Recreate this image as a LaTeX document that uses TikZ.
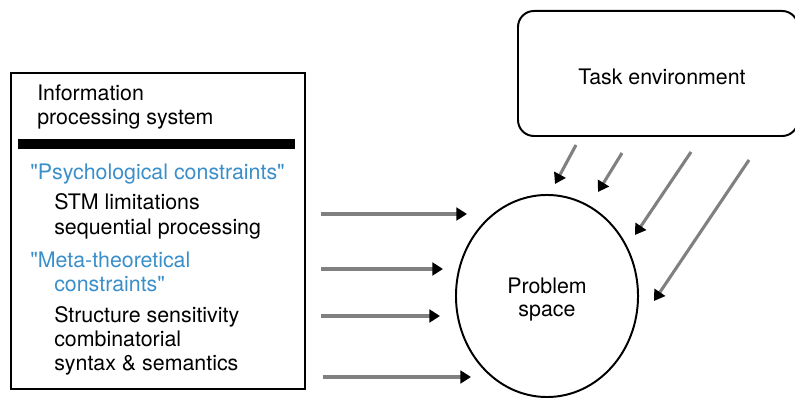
\documentclass[tikz,border=0pt]{standalone}
\usepackage{fontspec}
\setmainfont{TeX Gyre Heros}
\usetikzlibrary{arrows.meta,shapes.geometric}
\definecolor{capblue}{RGB}{58,142,201}
\definecolor{shaft}{RGB}{128,128,128}
\tikzset{
  feed/.style={draw=shaft, line width=2.2pt,
    -{Triangle[color=black, length=7.5pt, width=9pt]}},
  txt/.style={anchor=base west, inner sep=0pt, font=\fontsize{15.2}{17}\selectfont},
}
\begin{document}
\begin{tikzpicture}[x=0.025cm, y=-0.025cm]
    \useasboundingbox (0, 0) rectangle (795, 398);

    % information processing system
    \node[draw, line width=1.4pt, minimum width=7.35cm, minimum height=7.9cm, anchor=north west] (ips) at (10, 72) {};
    \fill (18, 139) rectangle (295, 149);
    \node[txt] (ipsa) at (37, 101) {Information};
    \node[txt] (ipsb) at (37, 125) {processing system};
    \node[txt, capblue] (psy) at (30, 180) {\textquotedbl Psychological constraints\textquotedbl};
    \node[txt] (stm) at (54, 210) {STM limitations};
    \node[txt] (seq) at (54, 235) {sequential processing};
    \node[txt, capblue] (meta) at (30, 268) {\textquotedbl Meta-theoretical};
    \node[txt, capblue] (metb) at (54, 292) {constraints\textquotedbl};
    \node[txt] (str) at (54, 323) {Structure sensitivity};
    \node[txt] (comb) at (54, 347) {combinatorial};
    \node[txt] (syn) at (54, 371) {syntax \& semantics};

    % task environment
    \node[draw, line width=1.4pt, rounded corners=0.4cm, minimum width=7cm, minimum height=3.125cm, anchor=north west] (task) at (517, 10) {};
    \node[txt, anchor=base] (tasklab) at (662, 85) {Task environment};

    % problem space
    \node[draw, ellipse, line width=1.4pt, minimum width=4.55cm, minimum height=5.05cm] (space) at (547, 296) {};
    \node[txt, anchor=base] (spacea) at (547, 294) {Problem};
    \node[txt, anchor=base] (spaceb) at (547, 317) {space};

    % arrows from the left
    \coordinate (l1) at (321, 214);  \coordinate (r1) at (467, 214);
    \coordinate (l2) at (321, 269);  \coordinate (r2) at (443, 269);
    \coordinate (l3) at (321, 316);  \coordinate (r3) at (440, 316);
    \coordinate (l4) at (323, 377);  \coordinate (r4) at (471, 377);
    \draw[feed] (l1) -- (r1);
    \draw[feed] (l2) -- (r2);
    \draw[feed] (l3) -- (r3);
    \draw[feed] (l4) -- (r4);

    % arrows from above
    \coordinate (t1) at (576, 145);  \coordinate (h1) at (555, 184);
    \coordinate (t2) at (622, 153);  \coordinate (h2) at (598, 192);
    \coordinate (t3) at (691, 152);  \coordinate (h3) at (635, 235);
    \coordinate (t4) at (749, 160);  \coordinate (h4) at (654, 301);
    \draw[feed] (t1) -- (h1);
    \draw[feed] (t2) -- (h2);
    \draw[feed] (t3) -- (h3);
    \draw[feed] (t4) -- (h4);
  \end{tikzpicture}
\end{document}
